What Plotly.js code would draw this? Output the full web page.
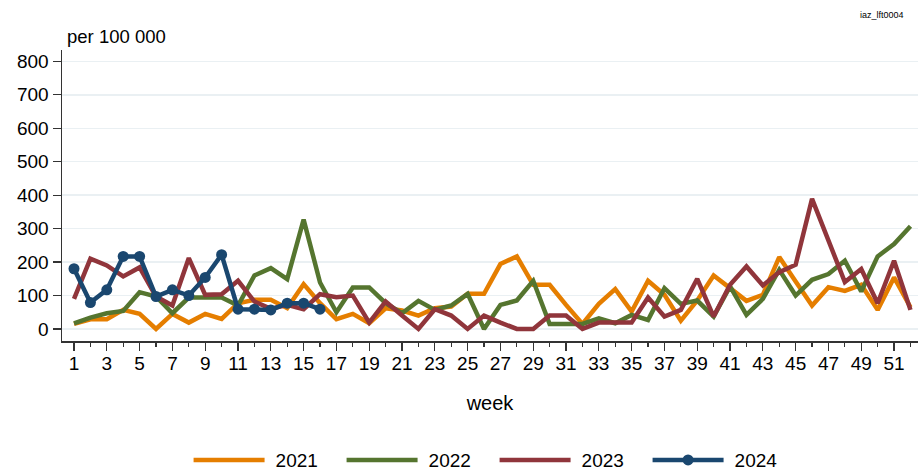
<!DOCTYPE html>
<html>
<head>
<meta charset="utf-8">
<script src="https://cdn.plot.ly/plotly-3.0.1.min.js"></script>
<style>html,body{margin:0;padding:0;background:#fff;}#chart{width:921px;height:470px;}</style>
</head>
<body>
<div id="chart"></div>
<script>
const weeks = [1,2,3,4,5,6,7,8,9,10,11,12,13,14,15,16,17,18,19,20,21,22,23,24,25,26,27,28,29,30,31,32,33,34,35,36,37,38,39,40,41,42,43,44,45,46,47,48,49,50,51,52];
const weeks2024 = [1,2,3,4,5,6,7,8,9,10,11,12,13,14,15,16];
const y2021 = [15,29,29,57,45,0,45,19,45,30, 77,87,87,62,134,77,29,45,17,62, 55,40,62,67,105,105,194,217,132,132, 72,15,75,119,52,144,102,25,85,160, 122,84,102,215,142,70,125,114,132,57, 154,65];
const y2022 = [17,34,47,54,110,97,47,94,94,94, 70,160,182,149,327,139,50,124,124,77, 47,84,57,70,105,0,72,85,144,15, 15,15,32,17,42,27,122,75,85,37, 127,42,90,177,100,147,164,204,112,217, 254,307];
const y2023 = [90,210,190,157,184,97,70,212,102,104, 144,82,60,72,59,104,95,100,19,82, 40,0,59,40,0,40,19,0,0,40, 40,0,19,19,19,94,37,57,150,37, 132,187,130,170,192,389,267,140,179,77, 204,57];
const y2024 = [180,79,117,217,217,97,117,100,154,222,59,59,57,77,77,59];
const xTicks = [1,3,5,7,9,11,13,15,17,19,21,23,25,27,29,31,33,35,37,39,41,43,45,47,49,51];
const yTicks = [0,100,200,300,400,500,600,700,800];
const seriesNames = ['2021','2022','2023','2024'];
const colors = ['#e57e00','#55752f','#90353b','#1a476f'];

const traces = [
  {x: weeks, y: y2021, name: seriesNames[0], mode: 'lines', line: {color: colors[0], width: 4.5}},
  {x: weeks, y: y2022, name: seriesNames[1], mode: 'lines', line: {color: colors[1], width: 4.5}},
  {x: weeks, y: y2023, name: seriesNames[2], mode: 'lines', line: {color: colors[2], width: 4.5}},
  {x: weeks2024, y: y2024, name: seriesNames[3], mode: 'lines+markers', line: {color: colors[3], width: 4.5}, marker: {color: colors[3], size: 11}}
];

const font = 'Liberation Sans, Arial, sans-serif';
const LEG_LINE = 71;
const layout = {
  width: 921, height: 470,
  margin: {l: 62, r: 3, t: 50, b: 129, autoexpand: false},
  paper_bgcolor: '#fff', plot_bgcolor: '#fff',
  font: {family: font, color: '#000', size: 19},
  showlegend: true,
  xaxis: {
    range: [0.268, 52.46], tickvals: xTicks, ticktext: xTicks.map(String),
    ticks: 'outside', ticklen: 8, tickwidth: 1.2, tickcolor: '#333',
    minor: {dtick: 1, tick0: 0, ticks: 'outside', ticklen: 4, tickcolor: '#333', showgrid: false},
    showline: true, linecolor: '#333', linewidth: 1.5, showgrid: false, zeroline: false,
    automargin: false, ticklabelstandoff: -3,
    tickfont: {size: 19, family: font},
    title: {text: 'week', font: {size: 20, family: font}, standoff: 22}
  },
  yaxis: {
    range: [-36, 834], tickvals: yTicks, ticktext: yTicks.map(String),
    ticks: 'outside', ticklen: 8, tickwidth: 1.2, tickcolor: '#333',
    showline: true, linecolor: '#333', linewidth: 1.5, automargin: false,
    showgrid: true, gridcolor: '#eaf0f3', gridwidth: 1.5, zeroline: false,
    tickfont: {size: 19, family: font}
  },
  legend: {orientation: 'h', x: 0.537, xanchor: 'center', xref: 'container', y: 0.021, yref: 'container', yanchor: 'middle',
    font: {size: 19, family: font}, itemwidth: LEG_LINE + 6, entrywidth: 61, bgcolor: 'rgba(0,0,0,0)'},
  annotations: [
    {text: 'per 100 000', xref: 'paper', yref: 'paper', x: 0.0035, y: 1.045, xanchor: 'left', yanchor: 'middle', showarrow: false, font: {size: 18.5, family: font}},
    {text: 'iaz_lft0004', xref: 'paper', yref: 'paper', x: 0.986, y: 1.12, xanchor: 'right', yanchor: 'middle', showarrow: false, font: {size: 9, family: font}}
  ]
};

Plotly.newPlot('chart', traces, layout, {displayModeBar: false, staticPlot: true}).then(function (gd) {
  // lengthen legend line samples to match the reference style
  gd.querySelectorAll('.legend .legendlines path').forEach(function (p) {
    p.setAttribute('d', 'M5,0h' + LEG_LINE);
  });
  gd.querySelectorAll('.legend .legendpoints path').forEach(function (p) {
    p.setAttribute('transform', 'translate(' + (5 + LEG_LINE / 2) + ',0)');
  });
});
</script>
</body>
</html>
